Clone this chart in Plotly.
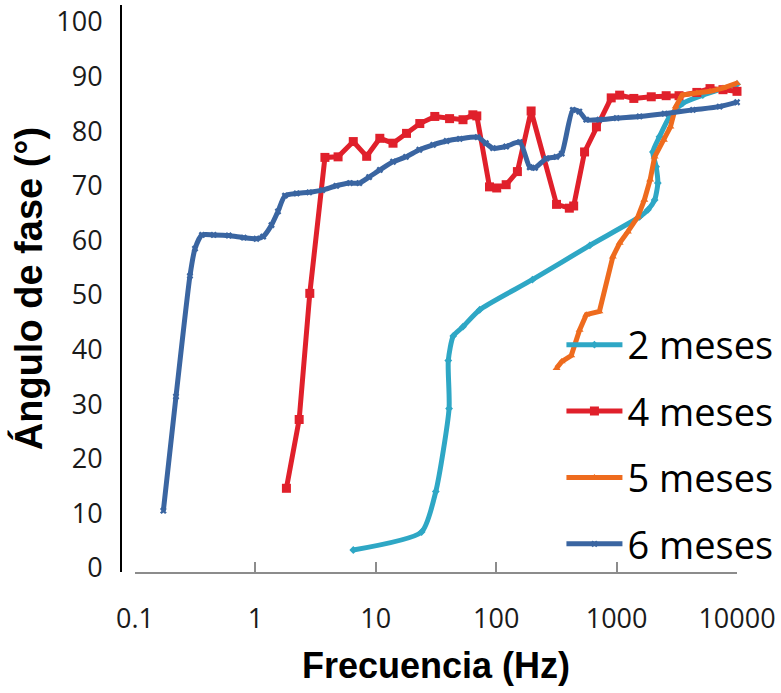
import plotly.graph_objects as go

# ---- data ----
f_2m = [6.5, 24, 31.5, 40.6, 40.0, 44, 53, 73, 200, 600, 1550, 1820, 2070, 2200, 2130, 2000, 2270, 2760, 3540, 5200, 10000]
p_2m = [3.3, 6.6, 14.0, 29.2, 38.0, 42.5, 44.2, 47.3, 52.8, 59.1, 64.3, 65.6, 67.4, 70.5, 73.5, 76.2, 79.0, 82.7, 85.1, 86.6, 88.6]

f_4m = [1.81, 2.31, 2.83, 3.78, 4.86, 6.5, 8.4, 10.8, 13.9, 18, 23.2, 30.9, 41, 53, 64, 69, 88, 101, 121, 150, 195,
        317, 405, 440, 542, 680, 902, 1060, 1390, 1940, 2580, 3300, 4640, 5970, 7650, 10000]
p_4m = [14.6, 27.2, 50.3, 75.2, 75.3, 78.1, 75.4, 78.7, 77.8, 79.6, 81.4, 82.7, 82.3, 82.1, 83.0, 82.8, 69.8, 69.6, 70.2, 72.6, 83.7,
        66.6, 65.9, 66.3, 76.2, 80.8, 86.1, 86.6, 86.0, 86.3, 86.5, 86.5, 87.1, 87.8, 87.6, 87.3]

f_5m = [317, 350, 420, 493, 560, 720, 930, 1060, 1240, 1500, 1700, 1900, 2070, 2470, 2800, 3100, 3500, 4640, 5970, 7650, 10000]
p_5m = [36.6, 37.8, 38.9, 43.6, 46.4, 47.0, 57.0, 59.5, 61.6, 64.3, 67.4, 71.1, 75.3, 78.4, 80.8, 84.5, 86.6, 87.0, 87.3, 87.9, 88.8]

f_6m = [0.172, 0.219, 0.286, 0.315, 0.36, 0.45, 0.6, 0.8, 1.02, 1.16, 1.36, 1.54, 1.76, 2.2, 2.8, 3.6, 4.7, 6.1, 7.3, 8.8,
        10.8, 13.9, 17.8, 23, 29.9, 38.7, 49.8, 70, 82, 94, 121, 157, 190, 210, 261, 316, 350, 433, 490, 560, 720,
        1000, 1550, 2500, 4300, 7160, 10000]
p_6m = [10.5, 31.4, 53.5, 58.5, 61.0, 61.0, 60.9, 60.5, 60.3, 60.7, 62.8, 65.3, 68.2, 68.6, 68.8, 69.2, 70.0, 70.5, 70.5, 71.6,
        72.9, 74.4, 75.3, 76.6, 77.5, 78.2, 78.6, 78.9, 77.8, 76.9, 77.2, 78.0, 73.4, 73.3, 75.0, 75.3, 75.9, 83.9, 83.6, 82.1, 82.1,
        82.4, 82.7, 83.2, 83.9, 84.5, 85.3]

x_tickvals = [0.1, 1, 10, 100, 1000, 10000]
x_ticktext = ["0.1", "1", "10", "100", "1000", "10000"]
y_tickvals = [0, 10, 20, 30, 40, 50, 60, 70, 80, 90, 100]

series = [
    ("2 meses", f_2m, p_2m, "#2EA7C5", "diamond", 6, "spline"),
    ("4 meses", f_4m, p_4m, "#E0202B", "square", 9, "linear"),
    ("5 meses", f_5m, p_5m, "#EE6B1E", "triangle-up", 7, "linear"),
    ("6 meses", f_6m, p_6m, "#3A65A1", "x", 6, "spline"),
]

fig = go.Figure()
for i, (name, xs, ys, col, sym, msz, shape) in enumerate(series):
    fig.add_trace(go.Scatter(
        x=xs, y=ys, name=name, mode="lines+markers",
        line=dict(color=col, width=5, shape=shape, smoothing=0.6),
        marker=dict(color=col, symbol=sym, size=msz, line=dict(width=0)),
        cliponaxis=False, legendgroup=f"g{i}",
    ))

tick_font = dict(family="Open Sans", size=27, color="#1a1a1a")

fig.update_layout(
    width=781, height=693,
    margin=dict(l=121, r=44, t=5, b=121, autoexpand=False),
    plot_bgcolor="white", paper_bgcolor="white",
    showlegend=True,
    legend=dict(
        x=0.715, y=0.456, xanchor="left", yanchor="top",
        font=dict(family="Open Sans", size=38, color="#000000"),
        bgcolor="rgba(0,0,0,0)", borderwidth=0,
        tracegroupgap=14, itemwidth=56,
    ),
    xaxis=dict(
        type="log", range=[-1, 4], domain=[14 / 616, 1],
        tickvals=x_tickvals, ticktext=x_ticktext,
        ticks="inside", ticklen=10, tickwidth=2, tickcolor="#8C8C8C",
        showline=True, linecolor="#8C8C8C", linewidth=2,
        showgrid=False, zeroline=False, automargin=False,
        tickfont=tick_font, ticklabelstandoff=22,
        title=dict(text="<b>Frecuencia (Hz)</b>",
                   font=dict(family="Liberation Sans", size=36, color="#000000"), standoff=17),
    ),
    yaxis=dict(
        range=[-0.73, 103.11], anchor="free", position=0,
        tickvals=y_tickvals, ticks="",
        showline=True, linecolor="#000000", linewidth=2,
        showgrid=False, zeroline=False, automargin=False,
        tickfont=tick_font, ticklabelstandoff=12,
        title=dict(text="<b>Ángulo de fase (°)</b>",
                   font=dict(family="Liberation Sans", size=38, color="#000000"), standoff=1),
    ),
)

fig.write_html("out.html", post_script="document.body.style.margin='0';",
               config={"displayModeBar": False})
